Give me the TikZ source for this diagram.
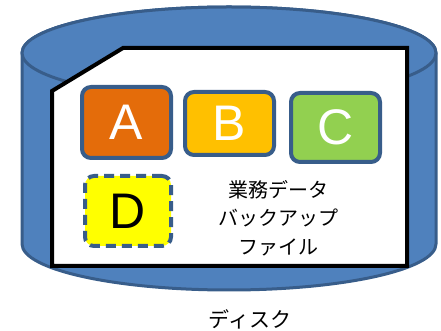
\documentclass[tikz,border=0pt]{standalone}
\usepackage{fontspec}
\setmainfont{Liberation Sans}
\newfontfamily\jpfont{Noto Sans CJK JP}
\definecolor{cylfill}{HTML}{4F81BD}
\definecolor{cylline}{HTML}{385D8A}
\definecolor{afill}{HTML}{E46C0A}
\definecolor{bfill}{HTML}{FFC000}
\definecolor{cfill}{HTML}{92D050}
\definecolor{dfill}{HTML}{FFFF00}
\begin{document}
\begin{tikzpicture}[x=1pt,y=1pt,
  cyl/.style={fill=cylfill,draw=cylline,line width=3pt},
  filebox/.style={draw=cylline,line width=4pt,rounded corners=9pt,inner sep=0pt,
    font=\fontsize{50}{50}\selectfont,text=white},
  doc/.style={draw=black,fill=white,line width=4pt,line join=miter},
  jptext/.style={font=\jpfont\fontsize{20}{28.5}\selectfont,align=center,text=black}]
\useasboundingbox (0,0) rectangle (441,331);
% cylinder
\path[cyl] (22,278) -- (22,87) arc[start angle=180,end angle=360,x radius=207,y radius=46]
  -- (436,278) arc[start angle=0,end angle=180,x radius=207,y radius=46] -- cycle;
\path[cyl] (229,278) ellipse[x radius=207,y radius=46];
% document
\path[doc] (123,283) -- (407,283) -- (407,65) -- (52,65) -- (52,240) -- cycle;
% boxes
\node[filebox,fill=afill,minimum width=89,minimum height=71] (A) at (126.5,208.5) {A};
\node[filebox,fill=bfill,minimum width=89,minimum height=63] (B) at (229.5,207.5) {B};
\node[filebox,fill=cfill,minimum width=89,minimum height=69] (C) at (335.5,203.5) {C};
\node[filebox,fill=dfill,dash pattern=on 10pt off 6pt,text=black,minimum width=86,minimum height=70] (D) at (128,120) {D};
\node[jptext] (T) at (278,113) {業務データ\\バックアップ\\ファイル};
\node[jptext,font=\jpfont\fontsize{21}{24}\selectfont] (L) at (250,12) {ディスク};
\end{tikzpicture}
\end{document}
